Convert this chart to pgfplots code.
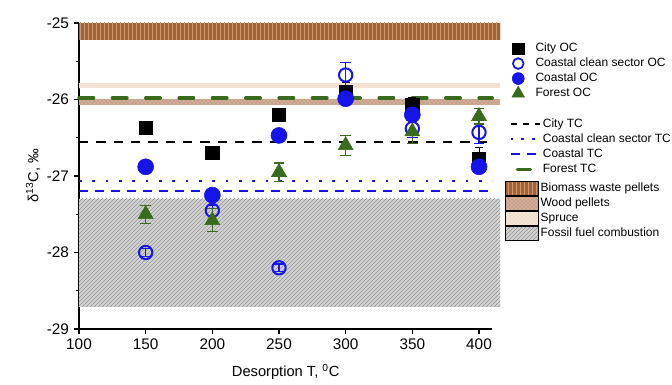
\documentclass[border=0pt]{standalone}
\usepackage{pgfplots}
\pgfplotsset{compat=1.18}
\usepackage{fontspec}
\setmainfont{Liberation Sans}
\usetikzlibrary{patterns}
\definecolor{cblue}{RGB}{20,20,235}
\definecolor{cgreen}{RGB}{56,108,28}
\definecolor{biomass}{RGB}{160,100,55}
\definecolor{biomassline}{RGB}{205,150,110}
\definecolor{wood}{RGB}{200,160,138}
\definecolor{spruce}{RGB}{242,222,204}
\definecolor{fossil}{RGB}{210,210,210}
\definecolor{fossilline}{RGB}{150,150,150}
\newcommand{\legbox}[2]{\pgfpathrectanglecorners{\pgfpoint{0pt}{-#2}}{\pgfpoint{#1}{#2}}\pgfusepath{discard}}
\pgfplotsset{
  base/.style={width=310pt, height=229.5pt, scale only axis, at={(0,0)}, anchor=south west},
  leg/.style={base, hide axis, xmin=0, xmax=1, ymin=0, ymax=1,
    legend cell align=left,
    legend style={draw=none, fill=none, font=\fontsize{9}{11}\selectfont, anchor=north west,
      row sep=0.25pt, column sep=0pt,
      nodes={inner sep=1pt, text height=7pt, text depth=2pt}}},
  markleg/.style={legend image code/.code={\legbox{18pt}{4pt}%
      \pgfinterruptboundingbox\draw[##1] plot coordinates {(6pt,0pt)};\endpgfinterruptboundingbox}},
  lineleg/.style={legend image code/.code={\legbox{21pt}{4pt}%
      \draw[##1] (0pt,0pt) -- (22pt,0pt);}},
  rectleg/.style={legend image code/.code={\legbox{25.5pt}{4pt}%
      \pgfinterruptboundingbox\path[##1, draw=none] (0pt,-5.2pt) rectangle (25pt,5.2pt);\endpgfinterruptboundingbox}},
}
\begin{document}
\begin{tikzpicture}
\path[use as bounding box] (-59.25pt,-42pt) rectangle (444.75pt,246.75pt);
\begin{axis}[base,
  xmin=100, xmax=410, ymin=-29, ymax=-25,
  clip=false,
  axis x line*=bottom, axis y line*=left,
  axis line style={line width=0.9pt},
  xtick={100,150,...,400}, ytick={-29,-28,-27,-26,-25},
  minor ytick={-28.5,-27.5,-26.5,-25.5},
  tick align=outside, major tick length=4pt, minor tick length=2.5pt,
  tick style={line width=0.8pt, black},
  /pgf/number format/assume math mode=true,
  ticklabel style={font=\fontsize{11.5}{13}\selectfont},
  xlabel={Desorption T, \textsuperscript{0}C},
  ylabel={δ\textsuperscript{13}C, ‰},
  label style={font=\fontsize{11}{13}\selectfont},
  xlabel style={at={(axis description cs:0.5,-0.14)}, anchor=center},
  ylabel style={at={(axis description cs:-0.111,0.5)}, anchor=center},
]
% reference bands
\addplot[draw=none, fill=fossil, postaction={pattern=north east lines, pattern color=fossilline}, forget plot]
  coordinates {(100,-27.30) (416,-27.30) (416,-28.71) (100,-28.71)} -- cycle;
\addplot[draw=none, fill=biomass, postaction={pattern=vertical lines, pattern color=biomassline}, forget plot]
  coordinates {(100,-25.0) (416,-25.0) (416,-25.22) (100,-25.22)} -- cycle;
\addplot[draw=none, fill=spruce, postaction={pattern=crosshatch dots, pattern color=white}, forget plot]
  coordinates {(100,-25.78) (416,-25.78) (416,-25.85) (100,-25.85)} -- cycle;
\addplot[draw=none, fill=wood, postaction={pattern=crosshatch dots, pattern color=spruce}, forget plot]
  coordinates {(100,-25.99) (416,-25.99) (416,-26.07) (100,-26.07)} -- cycle;
% TC lines
\addplot[black, line width=1.5pt, dash pattern=on 7pt off 6pt, forget plot] coordinates {(100,-26.55) (410,-26.55)};
\addplot[cblue, line width=1.6pt, dash pattern=on 2pt off 8pt, forget plot] coordinates {(100,-27.07) (410,-27.07)};
\addplot[cblue, line width=1.5pt, dash pattern=on 7pt off 5pt, forget plot] coordinates {(100,-27.20) (410,-27.20)};
\addplot[cgreen, line width=2.4pt, line cap=round, dash pattern=on 11pt off 14pt, forget plot] coordinates {(100,-25.98) (410,-25.98)};
% OC points
\addplot[only marks, mark=square*, mark size=5pt, black,
  error bars/.cd, y dir=both, y explicit, error bar style={line width=0.6pt}, error mark options={rotate=90, mark size=3pt}]
  coordinates {(150,-26.37) +- (0,0.03) (200,-26.70) +- (0,0.03) (250,-26.20) +- (0,0.03)
               (300,-25.90) +- (0,0.12) (350,-26.07) +- (0,0.10) (400,-26.78) +- (0,0.15)};
\addplot[only marks, mark=o, mark size=5pt, cblue, mark options={line width=1.5pt},
  error bars/.cd, y dir=both, y explicit, error bar style={line width=0.8pt}, error mark options={rotate=90, mark size=4pt, line width=0.8pt}]
  coordinates {(150,-28.00) +- (0,0.05) (200,-27.45) +- (0,0.07) (250,-28.20) +- (0,0.05)
               (300,-25.68) +- (0,0.16) (350,-26.38) +- (0,0.12) (400,-26.43) +- (0,0.15)};
\addplot[only marks, mark=*, mark size=6pt, cblue,
  error bars/.cd, y dir=both, y explicit, error bar style={line width=0.6pt}, error mark options={rotate=90, mark size=3pt}]
  coordinates {(150,-26.88) +- (0,0.02) (200,-27.25) +- (0,0.02) (250,-26.47) +- (0,0.02)
               (300,-25.99) +- (0,0.05) (350,-26.20) +- (0,0.05) (400,-26.88) +- (0,0.05)};
\addplot[only marks, mark=triangle*, mark size=6.5pt, cgreen,
  error bars/.cd, y dir=both, y explicit, error bar style={line width=0.8pt}, error mark options={rotate=90, mark size=4pt, line width=0.8pt}]
  coordinates {(150,-27.50) +- (0,0.12) (200,-27.58) +- (0,0.15) (250,-26.95) +- (0,0.12)
               (300,-26.60) +- (0,0.13) (350,-26.42) +- (0,0.15) (400,-26.22) +- (0,0.10)};
\end{axis}
% legend 1
\begin{axis}[leg, markleg, legend style={at={(axis description cs:1.033,0.95)}}]
\addlegendimage{only marks, mark=square*, mark size=4.2pt, black}
\addlegendentry{City OC}
\addlegendimage{only marks, mark=o, mark size=4pt, cblue, mark options={line width=1.3pt}}
\addlegendentry{Coastal clean sector OC}
\addlegendimage{only marks, mark=*, mark size=4.5pt, cblue}
\addlegendentry{Coastal OC}
\addlegendimage{only marks, mark=triangle*, mark size=5.5pt, cgreen}
\addlegendentry{Forest OC}
\end{axis}
% legend 2
\begin{axis}[leg, lineleg, legend style={at={(axis description cs:1.030,0.703)}}]
\addlegendimage{black, line width=1.5pt, dash pattern=on 5pt off 4pt}
\addlegendentry{City TC}
\addlegendimage{cblue, line width=1.6pt, dash pattern=on 2pt off 6pt}
\addlegendentry{Coastal clean sector TC}
\addlegendimage{cblue, line width=1.5pt, dash pattern=on 7pt off 5pt}
\addlegendentry{Coastal TC}
\addlegendimage{cgreen, line width=2.4pt, line cap=round, dash pattern=on 10pt off 20pt, dash phase=-5pt}
\addlegendentry{Forest TC}
\end{axis}
% legend 3
\begin{axis}[leg, rectleg, legend style={at={(axis description cs:1.021,0.493)}}]
\addlegendimage{fill=biomass, postaction={pattern=vertical lines, pattern color=biomassline}}
\addlegendentry{Biomass waste pellets}
\addlegendimage{fill=wood, postaction={pattern=crosshatch dots, pattern color=spruce}}
\addlegendentry{Wood pellets}
\addlegendimage{fill=spruce, postaction={pattern=crosshatch dots, pattern color=white}}
\addlegendentry{Spruce}
\addlegendimage{fill=fossil, postaction={pattern=north east lines, pattern color=fossilline}}
\addlegendentry{Fossil fuel combustion}
\end{axis}
\end{tikzpicture}
\end{document}
